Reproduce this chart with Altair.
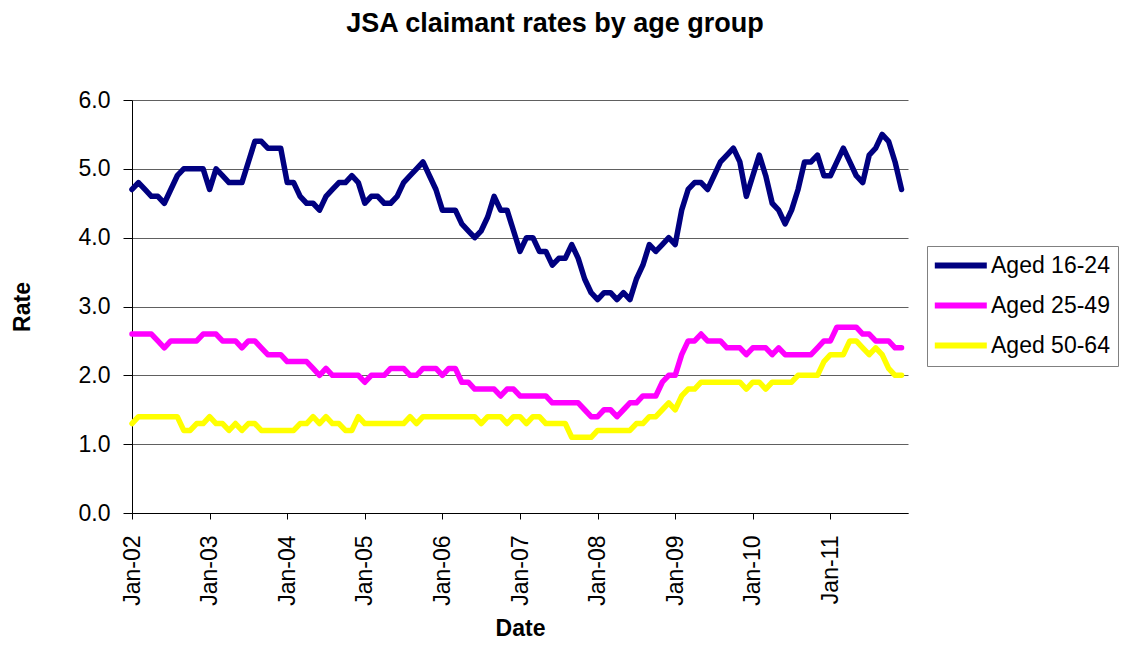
import altair as alt
import pandas as pd

tick_labels = ["Jan-02", "Jan-03", "Jan-04", "Jan-05", "Jan-06",
               "Jan-07", "Jan-08", "Jan-09", "Jan-10", "Jan-11"]
series_names = ["Aged 16-24", "Aged 25-49", "Aged 50-64"]
series_colors = ["#000080", "#FF00FF", "#FFFF00"]

aged_16_24 = [
    4.7, 4.8, 4.7, 4.6, 4.6, 4.5, 4.7, 4.9, 5.0, 5.0, 5.0, 5.0,
    4.7, 5.0, 4.9, 4.8, 4.8, 4.8, 5.1, 5.4, 5.4, 5.3, 5.3, 5.3,
    4.8, 4.8, 4.6, 4.5, 4.5, 4.4, 4.6, 4.7, 4.8, 4.8, 4.9, 4.8,
    4.5, 4.6, 4.6, 4.5, 4.5, 4.6, 4.8, 4.9, 5.0, 5.1, 4.9, 4.7,
    4.4, 4.4, 4.4, 4.2, 4.1, 4.0, 4.1, 4.3, 4.6, 4.4, 4.4, 4.1,
    3.8, 4.0, 4.0, 3.8, 3.8, 3.6, 3.7, 3.7, 3.9, 3.7, 3.4, 3.2,
    3.1, 3.2, 3.2, 3.1, 3.2, 3.1, 3.4, 3.6, 3.9, 3.8, 3.9, 4.0,
    3.9, 4.4, 4.7, 4.8, 4.8, 4.7, 4.9, 5.1, 5.2, 5.3, 5.1, 4.6,
    4.9, 5.2, 4.9, 4.5, 4.4, 4.2, 4.4, 4.7, 5.1, 5.1, 5.2, 4.9,
    4.9, 5.1, 5.3, 5.1, 4.9, 4.8, 5.2, 5.3, 5.5, 5.4, 5.1, 4.7,
]
aged_25_49 = [
    2.6, 2.6, 2.6, 2.6, 2.5, 2.4, 2.5, 2.5, 2.5, 2.5, 2.5, 2.6,
    2.6, 2.6, 2.5, 2.5, 2.5, 2.4, 2.5, 2.5, 2.4, 2.3, 2.3, 2.3,
    2.2, 2.2, 2.2, 2.2, 2.1, 2.0, 2.1, 2.0, 2.0, 2.0, 2.0, 2.0,
    1.9, 2.0, 2.0, 2.0, 2.1, 2.1, 2.1, 2.0, 2.0, 2.1, 2.1, 2.1,
    2.0, 2.1, 2.1, 1.9, 1.9, 1.8, 1.8, 1.8, 1.8, 1.7, 1.8, 1.8,
    1.7, 1.7, 1.7, 1.7, 1.7, 1.6, 1.6, 1.6, 1.6, 1.6, 1.5, 1.4,
    1.4, 1.5, 1.5, 1.4, 1.5, 1.6, 1.6, 1.7, 1.7, 1.7, 1.9, 2.0,
    2.0, 2.3, 2.5, 2.5, 2.6, 2.5, 2.5, 2.5, 2.4, 2.4, 2.4, 2.3,
    2.4, 2.4, 2.4, 2.3, 2.4, 2.3, 2.3, 2.3, 2.3, 2.3, 2.4, 2.5,
    2.5, 2.7, 2.7, 2.7, 2.7, 2.6, 2.6, 2.5, 2.5, 2.5, 2.4, 2.4,
]
aged_50_64 = [
    1.3, 1.4, 1.4, 1.4, 1.4, 1.4, 1.4, 1.4, 1.2, 1.2, 1.3, 1.3,
    1.4, 1.3, 1.3, 1.2, 1.3, 1.2, 1.3, 1.3, 1.2, 1.2, 1.2, 1.2,
    1.2, 1.2, 1.3, 1.3, 1.4, 1.3, 1.4, 1.3, 1.3, 1.2, 1.2, 1.4,
    1.3, 1.3, 1.3, 1.3, 1.3, 1.3, 1.3, 1.4, 1.3, 1.4, 1.4, 1.4,
    1.4, 1.4, 1.4, 1.4, 1.4, 1.4, 1.3, 1.4, 1.4, 1.4, 1.3, 1.4,
    1.4, 1.3, 1.4, 1.4, 1.3, 1.3, 1.3, 1.3, 1.1, 1.1, 1.1, 1.1,
    1.2, 1.2, 1.2, 1.2, 1.2, 1.2, 1.3, 1.3, 1.4, 1.4, 1.5, 1.6,
    1.5, 1.7, 1.8, 1.8, 1.9, 1.9, 1.9, 1.9, 1.9, 1.9, 1.9, 1.8,
    1.9, 1.9, 1.8, 1.9, 1.9, 1.9, 1.9, 2.0, 2.0, 2.0, 2.0, 2.2,
    2.3, 2.3, 2.3, 2.5, 2.5, 2.4, 2.3, 2.4, 2.3, 2.1, 2.0, 2.0,
]

rows = []
for name, vals in zip(series_names, [aged_16_24, aged_25_49, aged_50_64]):
    for i, v in enumerate(vals):
        rows.append({"month": i, "series": name, "rate": v})
df = pd.DataFrame(rows)

label_expr = "[" + ",".join("'%s'" % t for t in tick_labels) + "][round(datum.value / 12)]"
FONT = "Liberation Sans"

chart = alt.Chart(df).mark_line(
    strokeWidth=5.5, strokeCap="round", strokeJoin="round"
).encode(
    x=alt.X(
        "month:Q",
        scale=alt.Scale(domain=[0, 120], nice=False, zero=False),
        axis=alt.Axis(
            values=list(range(0, 120, 12)), labelExpr=label_expr, labelAngle=270,
            title="Date", grid=False, tickSize=6, labelPadding=16,
            labelFont=FONT, labelFontSize=23, labelColor="black",
            titleFont=FONT, titleFontSize=23, titleFontWeight="bold",
            titleColor="black", titlePadding=12,
            domainColor="black", tickColor="black", labelFlush=False,
        ),
    ),
    y=alt.Y(
        "rate:Q",
        scale=alt.Scale(domain=[0, 6], nice=False),
        axis=alt.Axis(
            values=[0, 1, 2, 3, 4, 5, 6], format=".1f", title="Rate",
            grid=True, gridColor="#606060", gridWidth=1,
            tickSize=9, labelPadding=13,
            labelFont=FONT, labelFontSize=23, labelColor="black",
            titleFont=FONT, titleFontSize=23, titleFontWeight="bold",
            titleColor="black", titlePadding=44,
            domainColor="black", tickColor="black",
        ),
    ),
    color=alt.Color(
        "series:N",
        scale=alt.Scale(domain=series_names, range=series_colors),
        legend=alt.Legend(
            title=None, orient="none", legendX=795, legendY=146,
            symbolType="M-3.25,0H3.25", symbolSize=256, symbolStrokeWidth=6,
            symbolOffset=14.3, labelOffset=18.7, rowPadding=15, padding=8,
            labelFont=FONT, labelFontSize=23, labelColor="black",
            strokeColor="#808080", fillColor="white",
        ),
    ),
).properties(
    width=776, height=413,
    title=alt.TitleParams(
        text="JSA claimant rates by age group", font=FONT, fontSize=27,
        fontWeight="bold", color="black", anchor="middle", frame="group",
        dx=35, offset=24, baseline="bottom",
    ),
    autosize=alt.AutoSizeParams(type="none"),
    padding={"left": 124, "top": 92, "right": 211, "bottom": 127},
).configure_view(stroke=None)

chart.save("out.html", embed_options={"renderer": "svg", "actions": False})
